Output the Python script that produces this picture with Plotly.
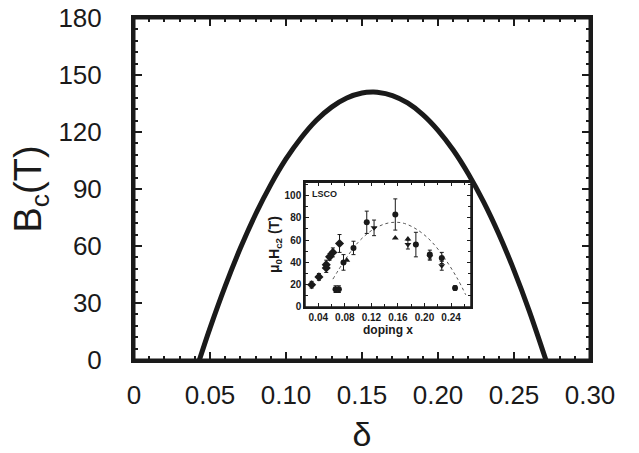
import plotly.graph_objects as go

# Main curve: critical field vs doping
delta = [0.043, 0.05, 0.06, 0.07, 0.08, 0.09, 0.10, 0.11, 0.12, 0.13, 0.14, 0.15, 0.157,
         0.16, 0.17, 0.18, 0.19, 0.20, 0.21, 0.22, 0.23, 0.24, 0.25, 0.26, 0.271]
bc = [0, 16.8, 38.9, 58.9, 76.7, 92.3, 105.8, 117.0, 126.2, 133.1, 137.9, 140.5, 141,
      140.9, 139.2, 135.3, 129.2, 120.9, 110.5, 97.9, 83.2, 66.3, 47.2, 25.9, 0]

main_xticks = [0, 0.05, 0.10, 0.15, 0.20, 0.25, 0.30]
main_xlabels = ["0", "0.05", "0.10", "0.15", "0.20", "0.25", "0.30"]
main_yticks = [0, 30, 60, 90, 120, 150, 180]

# Inset: LSCO data
dia_x = [0.030, 0.041, 0.052, 0.052, 0.057, 0.062, 0.072]
dia_y = [20, 27, 38, 35, 45, 49, 57]
dia_e = [3, 3, 4, 4, 3, 4, 8]

cir_x = [0.066, 0.071, 0.078, 0.093, 0.113, 0.156, 0.187, 0.208, 0.226, 0.246]
cir_y = [16, 16, 40, 53, 76, 83, 56, 47, 44, 17]
cir_e = [3, 3, 7, 6, 10, 14, 11, 4, 5, 2]

tup_x = [0.083, 0.156, 0.175]
tup_y = [42, 62, 61]

tdn_x = [0.124, 0.175, 0.208, 0.226]
tdn_y = [71, 56, 45, 37]
tdn_e = [7, 4, 3, 4]

fit_x = [0.062, 0.08, 0.10, 0.12, 0.14, 0.156, 0.17, 0.19, 0.21, 0.23, 0.25, 0.262]
fit_y = [25, 42, 58, 68.5, 74.5, 76, 74.9, 69, 59, 44, 25, 11]

inset_xticks = [0.04, 0.08, 0.12, 0.16, 0.20, 0.24]
inset_xlabels = ["0.04", "0.08", "0.12", "0.16", "0.20", "0.24"]
inset_yticks = [0, 20, 40, 60, 80, 100]
inset_ylabels = ["0", "20", "40", "60", "80", "100"]

FONT = "Liberation Sans, Arial, sans-serif"
INK = "#1a1a1a"

fig = go.Figure()
# inset on x/y, main plot on x2/y2
fig.add_trace(go.Scatter(x=fit_x, y=fit_y, mode="lines", line=dict(color="#555", width=1, dash="dot", shape="spline"),
                         showlegend=False, xaxis="x", yaxis="y"))
eb = dict(type="data", thickness=1, width=2, color=INK)
fig.add_trace(go.Scatter(x=dia_x, y=dia_y, mode="markers", marker=dict(symbol="diamond", size=7, color=INK),
                         error_y=dict(array=dia_e, **eb), error_x=dict(type="constant", value=0.002, thickness=1, width=0, color=INK),
                         showlegend=False, xaxis="x", yaxis="y"))
fig.add_trace(go.Scatter(x=cir_x, y=cir_y, mode="markers", marker=dict(symbol="circle", size=6, color=INK),
                         error_y=dict(array=cir_e, **eb),
                         showlegend=False, xaxis="x", yaxis="y"))
fig.add_trace(go.Scatter(x=tup_x, y=tup_y, mode="markers", marker=dict(symbol="triangle-up", size=6, color=INK),
                         showlegend=False, xaxis="x", yaxis="y"))
fig.add_trace(go.Scatter(x=tdn_x, y=tdn_y, mode="markers", marker=dict(symbol="triangle-down", size=6, color=INK),
                         error_y=dict(array=tdn_e, **eb),
                         showlegend=False, xaxis="x", yaxis="y"))
fig.add_trace(go.Scatter(x=delta, y=bc, mode="lines", line=dict(color=INK, width=5, shape="spline"),
                         showlegend=False, xaxis="x2", yaxis="y2"))

main_ax = dict(ticks="inside", ticklen=8, tickwidth=2, tickcolor=INK, automargin=False,
               showline=True, linewidth=3, linecolor=INK, mirror="ticks", showgrid=False, zeroline=False,
               tickfont=dict(size=26, color=INK))
inset_ax = dict(ticks="inside", ticklen=4, tickwidth=1, tickcolor=INK, automargin=False,
                showline=True, linewidth=1.5, linecolor=INK, mirror="ticks", showgrid=False, zeroline=False,
                tickfont=dict(size=10, color=INK))

fig.update_layout(
    width=639, height=453,
    margin=dict(l=134, r=49, t=18, b=93),
    paper_bgcolor="white", plot_bgcolor="rgba(0,0,0,0)",
    font=dict(family=FONT, color=INK),
    xaxis2=dict(range=[0, 0.30], tickvals=main_xticks, ticktext=main_xlabels, domain=[0, 1], anchor="y2",
                ticklabelstandoff=10,
                minor=dict(dtick=0.01, tick0=0, ticks="inside", ticklen=4, tickwidth=2, tickcolor=INK),
                title=dict(text="δ", font=dict(size=34, color=INK), standoff=18), **main_ax),
    yaxis2=dict(range=[0, 180], tickvals=main_yticks, domain=[0, 1], anchor="x2",
                ticklabelstandoff=24,
                minor=dict(dtick=6, tick0=0, ticks="inside", ticklen=4, tickwidth=2, tickcolor=INK),
                title=dict(text="B<sub>c</sub>(T)", font=dict(size=38, color=INK), standoff=6), **main_ax),
    xaxis=dict(domain=[0.375, 0.739], anchor="y", range=[0.02, 0.27], tickvals=inset_xticks,
               ticktext=["<b>%s</b>" % t for t in inset_xlabels],
               minor=dict(dtick=0.02, tick0=0, ticks="inside", ticklen=3, tickwidth=1, tickcolor=INK),
               title=dict(text="<b>doping x</b>", font=dict(size=12, color=INK), standoff=2), **inset_ax),
    yaxis=dict(domain=[0.155, 0.520], anchor="x", range=[0, 112], tickvals=inset_yticks,
               ticktext=["<b>%s</b>" % t for t in inset_ylabels],
               minor=dict(dtick=10, tick0=0, ticks="inside", ticklen=3, tickwidth=1, tickcolor=INK),
               title=dict(text="<b>μ<sub>0</sub>H<sub>c2</sub> (T)</b>", font=dict(size=14, color=INK), standoff=2), **inset_ax),
    annotations=[dict(text="<b>LSCO</b>", xref="x", yref="y", x=0.028, y=101, xanchor="left", yanchor="middle",
                      showarrow=False, font=dict(size=9, color=INK))],
    shapes=[dict(type="rect", xref="x2 domain", yref="y2 domain", x0=0, x1=1, y0=0, y1=1,
                 line=dict(color=INK, width=3), fillcolor="rgba(0,0,0,0)", layer="above"),
            dict(type="rect", xref="x domain", yref="y domain", x0=0, x1=1, y0=0, y1=1,
                 line=dict(color=INK, width=1.5), fillcolor="rgba(0,0,0,0)", layer="above")],
)

fig.write_html("out.html")
